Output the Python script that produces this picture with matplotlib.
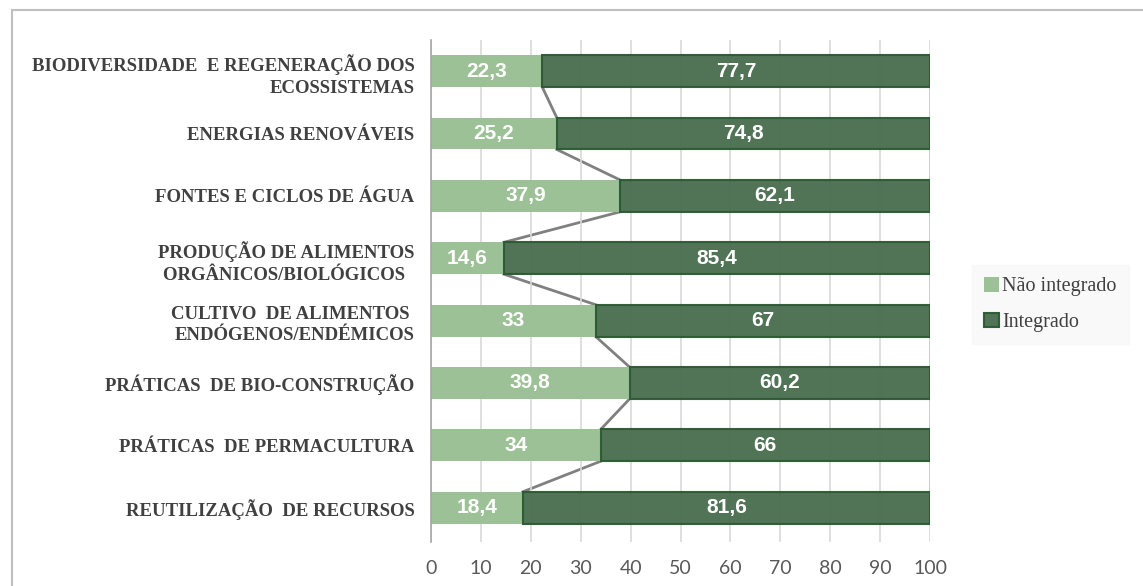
import numpy as np
import matplotlib.pyplot as plt
from matplotlib.patches import Rectangle

categories = [
    "BIODIVERSIDADE  E REGENERAÇÃO DOS\nECOSSISTEMAS",
    "ENERGIAS RENOVÁVEIS",
    "FONTES E CICLOS DE ÁGUA",
    "PRODUÇÃO DE ALIMENTOS\nORGÂNICOS/BIOLÓGICOS  ",
    "CULTIVO  DE ALIMENTOS \nENDÓGENOS/ENDÉMICOS",
    "PRÁTICAS  DE BIO-CONSTRUÇÃO",
    "PRÁTICAS  DE PERMACULTURA",
    "REUTILIZAÇÃO  DE RECURSOS",
]
nao_integrado = [22.3, 25.2, 37.9, 14.6, 33, 39.8, 34, 18.4]
integrado = [77.7, 74.8, 62.1, 85.4, 67, 60.2, 66, 81.6]
series_names = ["Não integrado", "Integrado"]
xticks = list(range(0, 101, 10))

light = "#9dc196"
dark = "#4a6e50"
dark_edge = "#2b5a33"

def fmt(v):
    return ("%g" % v).replace(".", ",")

fig = plt.figure(figsize=(11.43, 5.86), dpi=100)
ax = fig.add_axes([431 / 1143, 1 - 542 / 586, (930 - 431) / 1143, (542 - 40) / 586])

y = np.arange(len(categories))
h = 0.51
ax.barh(y, nao_integrado, height=h, color=light, label=series_names[0], zorder=2)
ax.barh(y, integrado, left=nao_integrado, height=h, color=dark, edgecolor=dark_edge,
        linewidth=1.5, alpha=0.96, label=series_names[1], zorder=3)

# series lines between bars
for i in range(len(y) - 1):
    ax.plot([nao_integrado[i], nao_integrado[i + 1]], [y[i] + h / 2, y[i + 1] - h / 2],
            color="#808080", lw=2, zorder=1)
    ax.plot([100, 100], [y[i] + h / 2, y[i + 1] - h / 2], color="#808080", lw=2, zorder=1)

for i in range(len(y)):
    ax.text(nao_integrado[i] / 2, y[i], fmt(nao_integrado[i]), ha="center", va="center",
            color="white", fontsize=15, fontweight="bold", family="Liberation Sans", zorder=4)
    ax.text(nao_integrado[i] + integrado[i] / 2, y[i], fmt(integrado[i]), ha="center",
            va="center", color="white", fontsize=15, fontweight="bold",
            family="Liberation Sans", zorder=4)

ax.set_xlim(0, 100)
ax.set_ylim(len(categories) - 0.45, -0.5)
ax.set_xticks(xticks)
ax.set_xticklabels([str(t) for t in xticks], fontsize=14, color="#595959", family="Lato")
ax.set_yticks(y)
ax.set_yticklabels(categories, fontsize=13.5, fontweight="bold", color="#404040",
                   family="Liberation Serif", linespacing=1.35)
ax.tick_params(axis="both", length=0)
ax.tick_params(axis="x", pad=13)
ax.tick_params(axis="y", pad=12)
ax.grid(axis="x", color="#d9d9d9", lw=1.2, zorder=0)
for s in ["top", "right", "bottom"]:
    ax.spines[s].set_visible(False)
ax.spines["left"].set_color("#a6a6a6")
ax.spines["left"].set_linewidth(1.2)

leg = fig.legend(loc="upper left", bbox_to_anchor=(972 / 1143, 1 - 265 / 586),
                 borderaxespad=0, frameon=True, fancybox=False, facecolor="#f8f8f8",
                 edgecolor="#f8f8f8", prop={"family": "Liberation Serif", "size": 14.5},
                 handlelength=0.75, handleheight=0.75, handletextpad=0.15,
                 labelspacing=0.8, borderpad=0.6)
for t in leg.get_texts():
    t.set_color("#404040")

fig.patches.append(Rectangle((12 / 1143, -0.1), 1.2, 1 - 10 / 586 + 0.1, transform=fig.transFigure,
                             fill=False, edgecolor="#bfbfbf", lw=1.5))

fig.savefig("out.png", dpi=100)
